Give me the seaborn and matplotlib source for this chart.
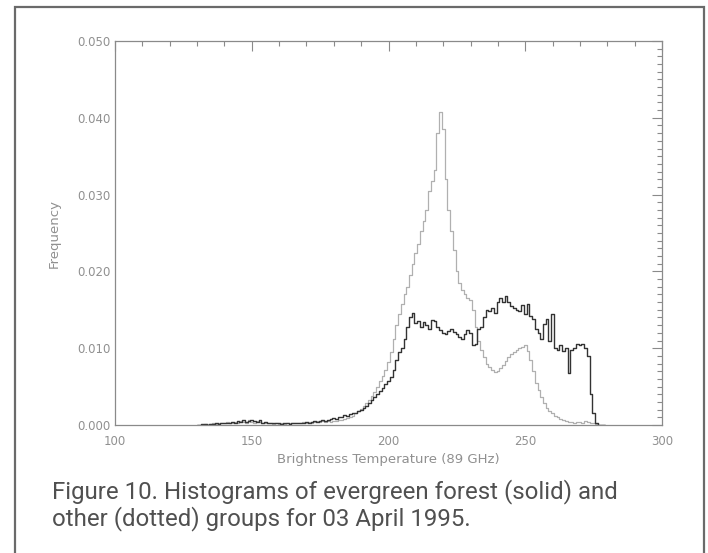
import numpy as np
import pandas as pd
import seaborn as sns
import matplotlib
matplotlib.use("Agg")
import matplotlib.pyplot as plt
from matplotlib.ticker import MultipleLocator, FormatStrFormatter
from matplotlib.patches import Rectangle

# ---- data ----
temp_start = 130  # first 1-K bin centre
evergreen = [
    0.0000, 0.0000, 0.0001, 0.0001, 0.0000,                      # 130-134
    0.0001, 0.0001, 0.0002, 0.0001, 0.0002,                      # 135-139
    0.0003, 0.0002, 0.0003, 0.0004, 0.0003,                      # 140-144
    0.0005, 0.0004, 0.0006, 0.0004, 0.0005,                      # 145-149
    0.0007, 0.0005, 0.0004, 0.0006, 0.0003,                      # 150-154
    0.0004, 0.0003, 0.0002, 0.0003, 0.0002,                      # 155-159
    0.0002, 0.0001, 0.0002, 0.0002, 0.0001,                      # 160-164
    0.0002, 0.0003, 0.0002, 0.0003, 0.0003,                      # 165-169
    0.0004, 0.0003, 0.0004, 0.0005, 0.0004,                      # 170-174
    0.0005, 0.0006, 0.0005, 0.0007, 0.0008,                      # 175-179
    0.0009, 0.0008, 0.0010, 0.0011, 0.0013,                      # 180-184
    0.0012, 0.0014, 0.0016, 0.0015, 0.0018,                      # 185-189
    0.0020, 0.0022, 0.0025, 0.0028, 0.0032,                      # 190-194
    0.0036, 0.0040, 0.0044, 0.0048, 0.0053,                      # 195-199
    0.0057, 0.0062, 0.0072, 0.0085, 0.0095,                      # 200-204
    0.0100, 0.0112, 0.0128, 0.0140, 0.0146,                      # 205-209
    0.0133, 0.0135, 0.0128, 0.0134, 0.0130,                      # 210-214
    0.0125, 0.0137, 0.0135, 0.0128, 0.0124,                      # 215-219
    0.0120, 0.0118, 0.0122, 0.0125, 0.0121,                      # 220-224
    0.0118, 0.0114, 0.0112, 0.0118, 0.0124,                      # 225-229
    0.0120, 0.0104, 0.0106, 0.0125, 0.0128,                      # 230-234
    0.0140, 0.0150, 0.0148, 0.0152, 0.0146,                      # 235-239
    0.0160, 0.0166, 0.0160, 0.0168, 0.0160,                      # 240-244
    0.0155, 0.0152, 0.0150, 0.0148, 0.0156,                      # 245-249
    0.0145, 0.0158, 0.0142, 0.0138, 0.0125,                      # 250-254
    0.0120, 0.0112, 0.0132, 0.0138, 0.0110,                      # 255-259
    0.0145, 0.0100, 0.0098, 0.0104, 0.0096,                      # 260-264
    0.0100, 0.0068, 0.0098, 0.0100, 0.0106,                      # 265-269
    0.0104, 0.0105, 0.0100, 0.0090, 0.0040,                      # 270-274
    0.0015, 0.0002, 0.0000, 0.0000, 0.0000,                      # 275-279
]
other = [
    0.0000, 0.0000, 0.0000, 0.0001, 0.0001,                      # 130-134
    0.0001, 0.0002, 0.0001, 0.0002, 0.0003,                      # 135-139
    0.0002, 0.0004, 0.0003, 0.0002, 0.0004,                      # 140-144
    0.0003, 0.0005, 0.0004, 0.0003, 0.0006,                      # 145-149
    0.0004, 0.0003, 0.0005, 0.0004, 0.0002,                      # 150-154
    0.0003, 0.0002, 0.0003, 0.0001, 0.0002,                      # 155-159
    0.0001, 0.0002, 0.0001, 0.0002, 0.0002,                      # 160-164
    0.0003, 0.0002, 0.0003, 0.0002, 0.0004,                      # 165-169
    0.0003, 0.0004, 0.0003, 0.0004, 0.0005,                      # 170-174
    0.0004, 0.0005, 0.0004, 0.0005, 0.0004,                      # 175-179
    0.0005, 0.0005, 0.0006, 0.0007, 0.0008,                      # 180-184
    0.0009, 0.0010, 0.0012, 0.0015, 0.0018,                      # 185-189
    0.0021, 0.0025, 0.0029, 0.0033, 0.0038,                      # 190-194
    0.0043, 0.0050, 0.0057, 0.0064, 0.0072,                      # 195-199
    0.0082, 0.0095, 0.0112, 0.0130, 0.0145,                      # 200-204
    0.0158, 0.0170, 0.0180, 0.0195, 0.0210,                      # 205-209
    0.0224, 0.0236, 0.0252, 0.0265, 0.0280,                      # 210-214
    0.0305, 0.0318, 0.0332, 0.0380, 0.0408,                      # 215-219
    0.0385, 0.0320, 0.0280, 0.0252, 0.0228,                      # 220-224
    0.0200, 0.0185, 0.0176, 0.0170, 0.0165,                      # 225-229
    0.0163, 0.0150, 0.0128, 0.0110, 0.0098,                      # 230-234
    0.0088, 0.0080, 0.0076, 0.0072, 0.0069,                      # 235-239
    0.0070, 0.0074, 0.0078, 0.0083, 0.0089,                      # 240-244
    0.0092, 0.0095, 0.0098, 0.0100, 0.0102,                      # 245-249
    0.0104, 0.0096, 0.0085, 0.0070, 0.0055,                      # 250-254
    0.0045, 0.0036, 0.0028, 0.0022, 0.0018,                      # 255-259
    0.0015, 0.0012, 0.0010, 0.0008, 0.0006,                      # 260-264
    0.0005, 0.0004, 0.0004, 0.0003, 0.0004,                      # 265-269
    0.0004, 0.0003, 0.0005, 0.0004, 0.0003,                      # 270-274
    0.0002, 0.0001, 0.0000, 0.0000, 0.0000,                      # 275-279
]
x_ticks = [100, 150, 200, 250, 300]
y_ticks = [0.000, 0.010, 0.020, 0.030, 0.040, 0.050]
x_label = "Brightness Temperature (89 GHz)"
y_label = "Frequency"
caption = ("Figure 10. Histograms of evergreen forest (solid) and\n"
           "other (dotted) groups for 03 April 1995.")

temps = np.arange(temp_start, temp_start + len(evergreen))
df = pd.DataFrame({"temp": temps, "evergreen": evergreen, "other": other})

sns.set_style("white")
plt.rcParams["font.family"] = ["DejaVu Sans"]

W, H = 708, 553
fig = plt.figure(figsize=(W / 100, H / 100), dpi=100)
fig.patch.set_facecolor("white")

# outer frame of the figure box
fig.add_artist(Rectangle((15 / W, -0.02), (704 - 15) / W, 1.02 - 7 / H,
                         transform=fig.transFigure, fill=False,
                         edgecolor="#6a6a6a", linewidth=1.6))

ax = fig.add_axes([115 / W, 1 - 425 / H, (662 - 115) / W, (425 - 41) / H])

sns.lineplot(data=df, x="temp", y="other", ax=ax, drawstyle="steps-mid",
             color="#b0b0b0", linewidth=0.9)
sns.lineplot(data=df, x="temp", y="evergreen", ax=ax, drawstyle="steps-mid",
             color="#333333", linewidth=1.0)

ax.set_xlim(x_ticks[0], x_ticks[-1])
ax.set_ylim(y_ticks[0], y_ticks[-1])
ax.set_xticks(x_ticks)
ax.set_yticks(y_ticks)
ax.xaxis.set_minor_locator(MultipleLocator(10))
ax.yaxis.set_minor_locator(MultipleLocator(0.001))
ax.yaxis.set_major_formatter(FormatStrFormatter("%.3f"))

axis_col = "#8a8a8a"
for sp in ax.spines.values():
    sp.set_color(axis_col)
    sp.set_linewidth(0.9)
    sp.set_visible(True)

ax.tick_params(which="both", direction="in", top=True, right=True,
               color=axis_col, width=0.8, labelcolor="#909090", labelsize=8.5)
ax.tick_params(which="major", length=7)
ax.tick_params(axis="x", which="major", pad=7)
ax.tick_params(axis="y", which="major", pad=3)
ax.tick_params(which="minor", length=3.5)

ax.set_xlabel(x_label, fontsize=9.5, color="#909090", labelpad=4)
ax.set_ylabel(y_label, fontsize=9.5, color="#909090", labelpad=12)

fig.text(52 / W, 1 - 505 / H, caption, ha="left", va="center",
         fontsize=17.3, color="#505050", linespacing=1.08,
         family=["Roboto", "DejaVu Sans"])

fig.savefig("out.png", dpi=100, facecolor="white")
